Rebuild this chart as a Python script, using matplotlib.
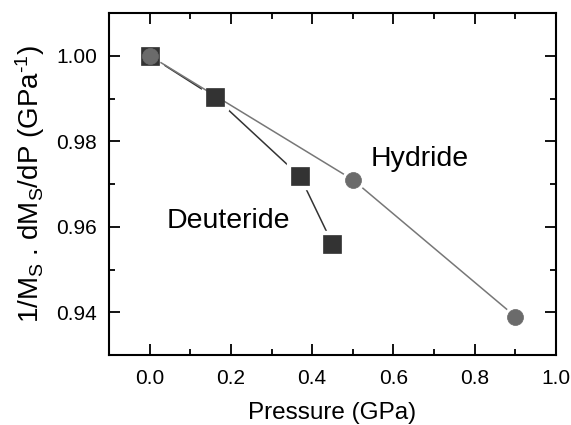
import matplotlib
matplotlib.use("Agg")
import matplotlib.pyplot as plt
from matplotlib.ticker import MultipleLocator, FormatStrFormatter

plt.rcParams['font.family'] = ['Liberation Sans', 'DejaVu Sans']
plt.rcParams['mathtext.fontset'] = 'custom'
plt.rcParams['mathtext.rm'] = 'Liberation Sans'
plt.rcParams['mathtext.it'] = 'Liberation Sans:italic'
plt.rcParams['mathtext.default'] = 'rm'

# Data
hydride_p = [0.0, 0.5, 0.9]
hydride_v = [1.000, 0.971, 0.939]
deuteride_p = [0.0, 0.16, 0.37, 0.45]
deuteride_v = [1.000, 0.9903, 0.9718, 0.956]
xticks = [0.0, 0.2, 0.4, 0.6, 0.8, 1.0]
yticks = [0.94, 0.96, 0.98, 1.00]

fig = plt.figure(figsize=(5.71, 4.25), dpi=100)
ax = fig.add_axes([0.1909, 0.1647, 0.7828, 0.8047])

hcol = '#6b6b6b'
dcol = '#333333'

# deuteride line + halos
ax.plot(deuteride_p, deuteride_v, '-', color=dcol, lw=1.1, zorder=1)
ax.plot(deuteride_p, deuteride_v, 's', ms=19.5 * 0.72 + 4, color='white', mec='white', zorder=2)
# hydride line + halos
ax.plot(hydride_p, hydride_v, '-', color='#777777', lw=1.1, zorder=3)
ax.plot(hydride_p, hydride_v, 'o', ms=16 * 0.72 + 4, color='white', mec='white', zorder=4)
# markers
ax.plot(deuteride_p, deuteride_v, 's', ms=18.5 * 0.72, color=dcol, mec=dcol, mew=0.5, zorder=5)
ax.plot(hydride_p, hydride_v, 'o', ms=16 * 0.72, color=hcol, mec=hcol, mew=0.5, zorder=6)

ax.text(0.543, 0.9741, 'Hydride', fontsize=20.5, ha='left', va='baseline')
ax.text(0.041, 0.9596, 'Deuteride', fontsize=20.5, ha='left', va='baseline')

ax.set_xlim(-0.1, 1.0)
ax.set_ylim(0.93, 1.01)
ax.set_xticks(xticks)
ax.set_yticks(yticks)
ax.xaxis.set_major_formatter(FormatStrFormatter('%.1f'))
ax.yaxis.set_major_formatter(FormatStrFormatter('%.2f'))
ax.xaxis.set_minor_locator(MultipleLocator(0.1))
ax.yaxis.set_minor_locator(MultipleLocator(0.01))
ax.tick_params(which='both', direction='in', top=True, right=True, width=1.3, labelsize=15)
ax.tick_params(axis='x', which='both', pad=10)
ax.tick_params(axis='y', which='both', pad=8.5)
ax.tick_params(which='major', length=8)
ax.tick_params(which='minor', length=4.5)
for s in ax.spines.values():
    s.set_linewidth(1.5)

ax.set_xlabel('Pressure (GPa)', fontsize=17.5, labelpad=10)
ax.set_ylabel(r'1/M$_\mathrm{S}$ . dM$_\mathrm{S}$/dP (GPa$^{\text{-}1}$)', fontsize=20, labelpad=7)

fig.savefig('out.png', dpi=100)
